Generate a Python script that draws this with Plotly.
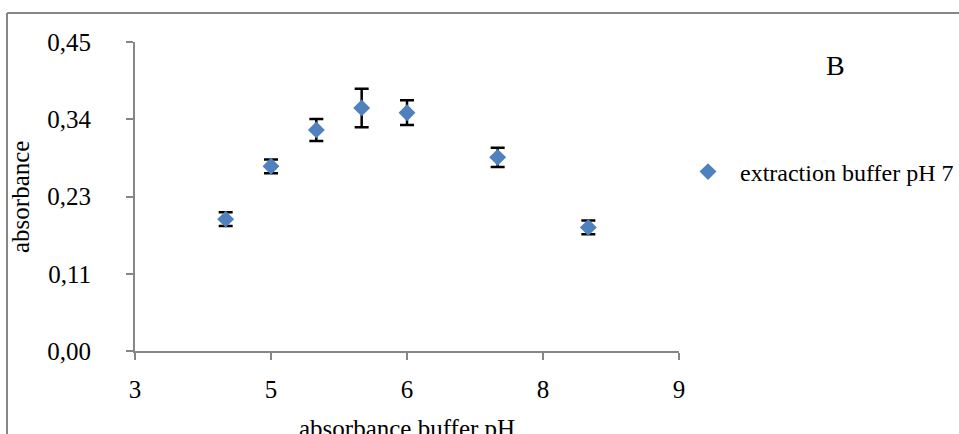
import plotly.graph_objects as go

# Absorbance measured across buffer pH values (extraction buffer pH 7)
buffer_ph = [4.0, 4.5, 5.0, 5.5, 6.0, 7.0, 8.0]
absorbance = [0.192, 0.269, 0.322, 0.354, 0.347, 0.282, 0.180]
abs_error = [0.010, 0.010, 0.016, 0.028, 0.018, 0.014, 0.010]

series_name = "extraction buffer pH 7"
panel_label = "B"

x_tick_vals = [3, 4.5, 6, 7.5, 9]
x_tick_text = ["3", "5", "6", "8", "9"]
y_tick_vals = [0, 0.1125, 0.225, 0.3375, 0.45]
y_tick_text = ["0,00", "0,11", "0,23", "0,34", "0,45"]

FONT = "Liberation Serif"
AXIS_GREY = "#868686"
W, H = 959, 434
L, R, T, B = 135, 280, 42, 83
PW, PH = W - L - R, H - T - B

def px_x(px):
    return (px - L) / PW

def px_y(py):
    return (H - B - py) / PH

fig = go.Figure()
fig.add_trace(go.Scatter(
    x=buffer_ph, y=absorbance, mode="markers",
    name="\u00a0\u00a0" + series_name,
    marker=dict(symbol="diamond", size=13, color="#4F81BD"),
    error_y=dict(type="data", array=abs_error, visible=True,
                 color="black", thickness=2.5, width=7),
))

fig.update_layout(
    width=W, height=H,
    margin=dict(l=L, r=R, t=T, b=B, autoexpand=False),
    paper_bgcolor="white", plot_bgcolor="white",
    font=dict(family=FONT, size=24, color="black"),
    showlegend=True,
    legend=dict(x=px_x(688), y=px_y(172), xanchor="left", yanchor="middle",
                font=dict(family=FONT, size=24, color="black"),
                bgcolor="rgba(0,0,0,0)", itemwidth=30),
    xaxis=dict(range=[3, 9], tickvals=x_tick_vals, ticktext=x_tick_text,
               showgrid=False, zeroline=False, showline=True,
               linecolor=AXIS_GREY, linewidth=2,
               ticks="outside", ticklen=7, tickwidth=2, tickcolor=AXIS_GREY,
               ticklabelstandoff=8,
               tickfont=dict(family=FONT, size=25, color="black")),
    yaxis=dict(range=[0, 0.45], tickvals=y_tick_vals, ticktext=y_tick_text,
               showgrid=False, zeroline=False, showline=True,
               linecolor=AXIS_GREY, linewidth=2,
               ticks="outside", ticklen=7, tickwidth=2, tickcolor=AXIS_GREY,
               ticklabelstandoff=30,
               tickfont=dict(family=FONT, size=25, color="black")),
)

# Axis titles and panel label
fig.add_annotation(text="absorbance", x=px_x(21), y=px_y(197), xref="paper", yref="paper",
                   xanchor="center", yanchor="middle",
                   textangle=-90, showarrow=False, font=dict(family=FONT, size=25))
fig.add_annotation(text="absorbance buffer pH", x=px_x(407), y=px_y(428), xref="paper", yref="paper",
                   xanchor="center", yanchor="middle",
                   showarrow=False, font=dict(family=FONT, size=25))
fig.add_annotation(text=panel_label, x=px_x(835), y=px_y(65), xref="paper", yref="paper",
                   xanchor="center", yanchor="middle",
                   showarrow=False, font=dict(family=FONT, size=28))

# Chart frame (left and top edges)
fig.add_shape(type="line", xref="paper", yref="paper", x0=px_x(7), x1=px_x(7),
              y0=px_y(440), y1=px_y(13), line=dict(color=AXIS_GREY, width=2))
fig.add_shape(type="line", xref="paper", yref="paper", x0=px_x(7), x1=px_x(970),
              y0=px_y(13), y1=px_y(13), line=dict(color=AXIS_GREY, width=2))

fig.write_html("out.html")
